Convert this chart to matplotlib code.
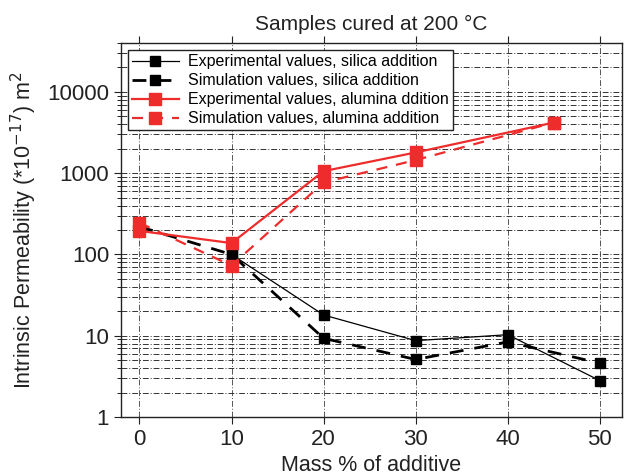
import matplotlib
matplotlib.use("Agg")
import matplotlib.pyplot as plt
from matplotlib.ticker import LogLocator, NullFormatter

plt.rcParams['font.family'] = ['Liberation Sans', 'DejaVu Sans']

silica_exp_x = [10, 20, 30, 40, 50]
silica_exp_y = [100, 18, 8.7, 10.3, 2.8]
silica_sim_x = [0, 10, 20, 30, 40, 50]
silica_sim_y = [220, 100, 9.3, 5.1, 8.4, 4.6]
alumina_exp_x = [0, 10, 20, 30, 45]
alumina_exp_y = [195, 138, 1060, 1800, 4200]
alumina_sim_x = [0, 10, 20, 30, 45]
alumina_sim_y = [245, 73, 770, 1450, 4200]
x_ticks = [0, 10, 20, 30, 40, 50]
y_ticks = [1, 10, 100, 1000, 10000]
y_ticklabels = ['1', '10', '100', '1000', '10000']

red = '#ee2c2c'
ink = '#222222'

fig = plt.figure(figsize=(6.27, 4.76), dpi=100)
ax = fig.add_axes([121/627, 1 - 417/476, (622-121)/627, (417-43)/476])

ax.plot(silica_exp_x, silica_exp_y, color='black', lw=0.9, marker='s', ms=7,
        label='Experimental values, silica addition', zorder=3)
ax.plot(silica_sim_x, silica_sim_y, color='black', lw=2, ls=(0, (5, 4)), marker='s', ms=7,
        label='Simulation values, silica addition', zorder=3)
ax.plot(alumina_exp_x, alumina_exp_y, color=red, lw=1.6, marker='s', ms=9,
        label='Experimental values, alumina ddition', zorder=4)
ax.plot(alumina_sim_x, alumina_sim_y, color=red, lw=1.6, ls=(0, (5, 4)), marker='s', ms=9,
        label='Simulation values, alumina addition', zorder=4)

ax.set_yscale('log')
ax.set_ylim(1, 40000)
ax.set_xlim(-2, 52.4)
ax.set_xticks(x_ticks)
ax.set_yticks(y_ticks)
ax.set_yticklabels(y_ticklabels)
ax.yaxis.set_minor_locator(LogLocator(base=10, subs=range(2, 10)))
ax.yaxis.set_minor_formatter(NullFormatter())

ax.grid(True, which='both', axis='y', color='#333333', lw=0.7, ls=(0, (6, 2, 1, 2)))
ax.grid(True, which='major', axis='x', color='#555555', lw=0.7, ls=(0, (6, 2, 1, 2)))
ax.set_axisbelow(True)

ax.tick_params(axis='both', which='major', labelsize=16, direction='out', length=5,
               color=ink, labelcolor=ink)
ax.tick_params(axis='y', which='minor', direction='out', length=3)
ax.tick_params(top=True, which='major', axis='x')
for s in ax.spines.values():
    s.set_linewidth(1.0)
    s.set_color(ink)

ax.set_xlabel('Mass % of additive', fontsize=15.5, labelpad=4, color=ink)
ax.set_ylabel('Intrinsic Permeability (*10$^{-17}$) m$^2$', fontsize=15.5, color=ink, labelpad=6)
ax.set_title('Samples cured at 200 \u00b0C', fontsize=15, pad=9, color=ink)

leg = ax.legend(loc='upper left', fontsize=11.5, frameon=True, fancybox=False,
                edgecolor=ink, framealpha=1, borderaxespad=0.45,
                handlelength=2.9, borderpad=0.25, labelspacing=0.25, handletextpad=0.6)
leg.get_frame().set_linewidth(1.0)

fig.savefig('out.png', dpi=100)
